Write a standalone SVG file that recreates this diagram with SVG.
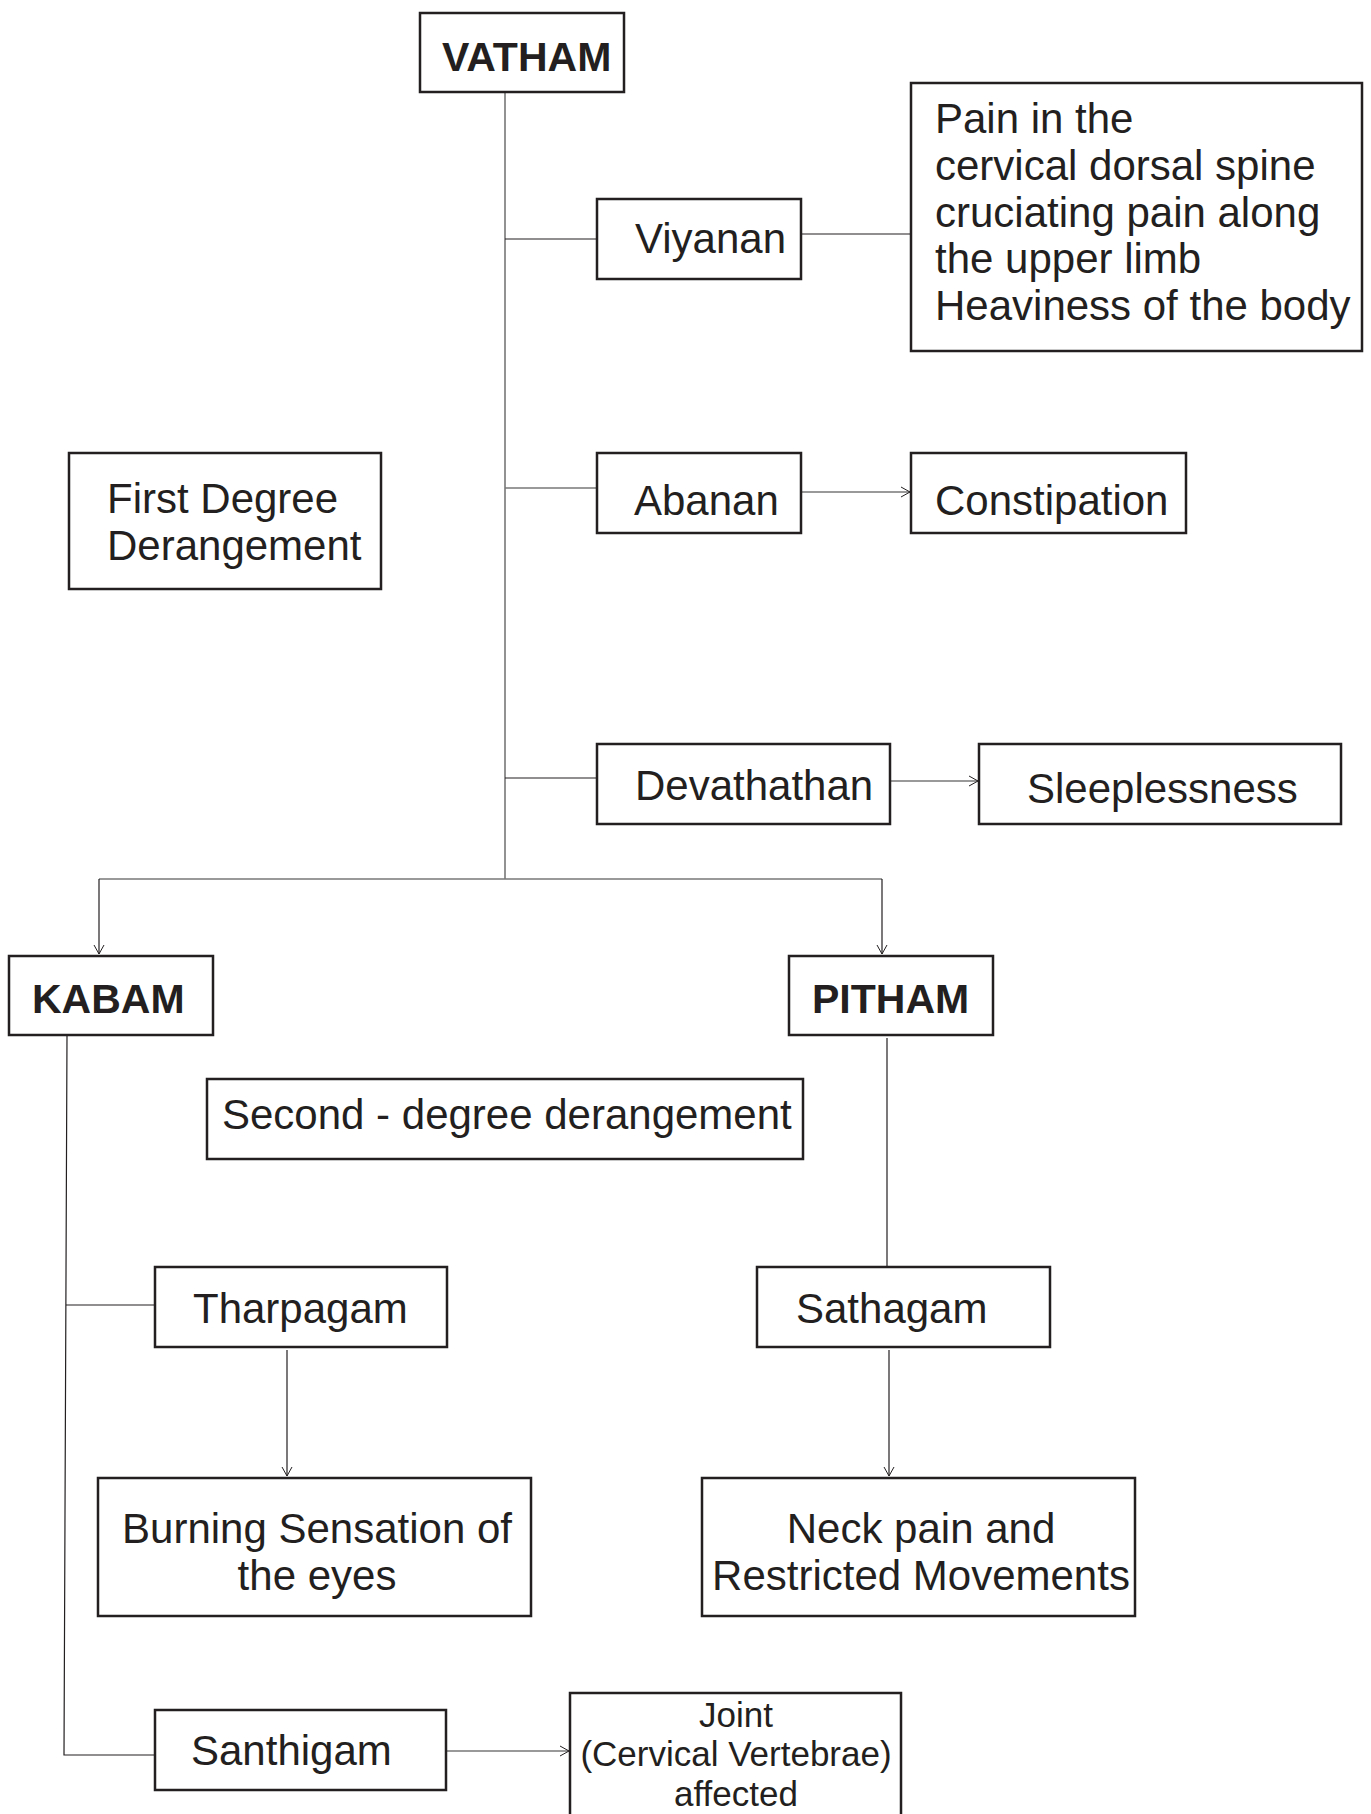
<svg xmlns="http://www.w3.org/2000/svg" width="1371" height="1814" viewBox="0 0 1371 1814">
<style>
.box{fill:#fff;stroke:#231f20;stroke-width:2.5}
.t{font-family:"Liberation Sans",Arial,sans-serif;font-size:42px;fill:#231f20}
.b{font-family:"Liberation Sans",Arial,sans-serif;font-size:41px;font-weight:bold;fill:#231f20}
.s{font-family:"Liberation Sans",Arial,sans-serif;font-size:35px;fill:#231f20}
.c{fill:none;stroke:#231f20;stroke-width:1.2}
.g{fill:none;stroke:#777;stroke-width:1.6}
</style>
<defs>
<marker id="ar" markerWidth="12" markerHeight="12" refX="10" refY="6" orient="auto" markerUnits="userSpaceOnUse">
<path d="M1,1 L10,6 L1,11" fill="none" stroke="#231f20" stroke-width="1"/>
</marker>
</defs>
<rect width="1371" height="1814" fill="#fff"/>
<g id="connectors">
<line class="g" x1="505" y1="92" x2="505" y2="879"/>
<line class="c" x1="505" y1="239" x2="597" y2="239"/>
<line class="c" x1="801" y1="234" x2="911" y2="234"/>
<line class="g" x1="505" y1="488" x2="597" y2="488"/>
<line class="g" x1="801" y1="492" x2="910" y2="492" marker-end="url(#ar)"/>
<line class="c" x1="505" y1="778" x2="597" y2="778"/>
<line class="g" x1="890" y1="781" x2="978" y2="781" marker-end="url(#ar)"/>
<polyline class="g" points="99,879 882,879"/>
<line class="c" x1="99" y1="879" x2="99" y2="954" marker-end="url(#ar)"/>
<line class="c" x1="882" y1="879" x2="882" y2="954" marker-end="url(#ar)"/>
<polyline class="c" points="67,1035 64,1755 154,1755"/>
<line class="c" x1="66" y1="1305" x2="155" y2="1305"/>
<line class="c" x1="887" y1="1038" x2="887" y2="1267"/>
<line class="c" x1="287" y1="1350" x2="287" y2="1476" marker-end="url(#ar)"/>
<line class="c" x1="889" y1="1350" x2="889" y2="1476" marker-end="url(#ar)"/>
<line class="g" x1="446" y1="1751" x2="569" y2="1751" marker-end="url(#ar)"/>
</g>
<g id="vatham"><rect class="box" x="420" y="13" width="204" height="79"/><text class="b" x="442" y="71">VATHAM</text></g>
<g id="viyanan"><rect class="box" x="597" y="199" width="204" height="80"/><text class="t" x="635" y="253">Viyanan</text></g>
<g id="pain"><rect class="box" x="911" y="83" width="451" height="268"/>
<text class="t" x="935" y="133">Pain in the</text>
<text class="t" x="935" y="180">cervical dorsal spine</text>
<text class="t" x="935" y="227">cruciating pain along</text>
<text class="t" x="935" y="273">the upper limb</text>
<text class="t" x="935" y="320">Heaviness of the body</text></g>
<g id="first"><rect class="box" x="69" y="453" width="312" height="136"/>
<text class="t" x="107" y="513">First Degree</text>
<text class="t" x="107" y="560">Derangement</text></g>
<g id="abanan"><rect class="box" x="597" y="453" width="204" height="80"/><text class="t" x="634" y="515">Abanan</text></g>
<g id="constipation"><rect class="box" x="911" y="453" width="275" height="80"/><text class="t" x="935" y="515">Constipation</text></g>
<g id="devathathan"><rect class="box" x="597" y="744" width="293" height="80"/><text class="t" x="635" y="800">Devathathan</text></g>
<g id="sleeplessness"><rect class="box" x="979" y="744" width="362" height="80"/><text class="t" x="1027" y="803">Sleeplessness</text></g>
<g id="kabam"><rect class="box" x="9" y="956" width="204" height="79"/><text class="b" x="32" y="1013">KABAM</text></g>
<g id="pitham"><rect class="box" x="789" y="956" width="204" height="79"/><text class="b" x="812" y="1013">PITHAM</text></g>
<g id="second"><rect class="box" x="207" y="1079" width="596" height="80"/><text class="t" x="222" y="1129">Second - degree derangement</text></g>
<g id="tharpagam"><rect class="box" x="155" y="1267" width="292" height="80"/><text class="t" x="193" y="1323">Tharpagam</text></g>
<g id="sathagam"><rect class="box" x="757" y="1267" width="293" height="80"/><text class="t" x="796" y="1323">Sathagam</text></g>
<g id="burning"><rect class="box" x="98" y="1478" width="433" height="138"/>
<text class="t" x="317" y="1543" text-anchor="middle">Burning Sensation of</text>
<text class="t" x="317" y="1590" text-anchor="middle">the eyes</text></g>
<g id="neck"><rect class="box" x="702" y="1478" width="433" height="138"/>
<text class="t" x="921" y="1543" text-anchor="middle">Neck pain and</text>
<text class="t" x="921" y="1590" text-anchor="middle">Restricted Movements</text></g>
<g id="santhigam"><rect class="box" x="155" y="1710" width="291" height="80"/><text class="t" x="191" y="1765">Santhigam</text></g>
<g id="joint"><rect class="box" x="570" y="1693" width="331" height="140"/>
<text class="s" x="736" y="1727" text-anchor="middle">Joint</text>
<text class="s" x="736" y="1766" text-anchor="middle">(Cervical Vertebrae)</text>
<text class="s" x="736" y="1806" text-anchor="middle">affected</text></g>
</svg>
